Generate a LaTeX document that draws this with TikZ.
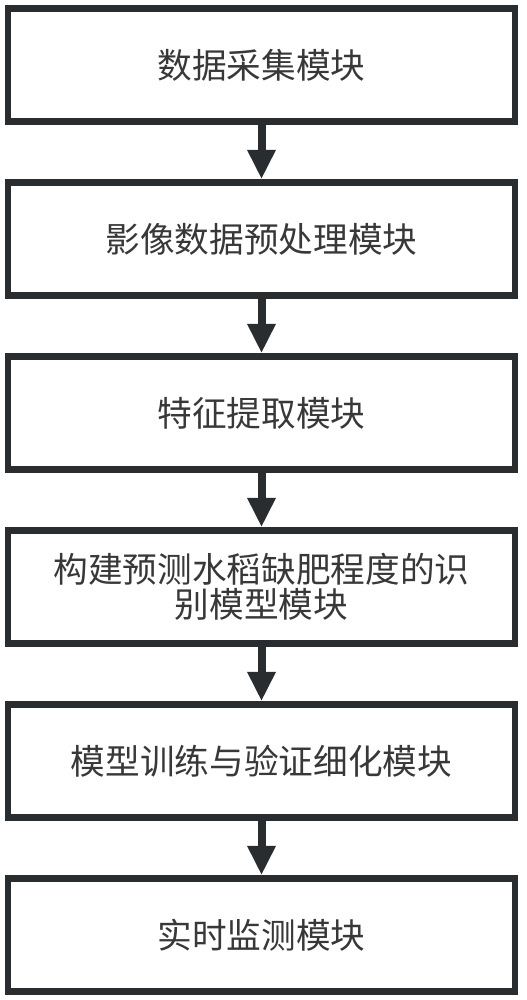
\documentclass[tikz,border=0pt]{standalone}
\usepackage{fontspec}
\newfontfamily\cjk{Noto Sans CJK SC}
\usetikzlibrary{positioning,arrows.meta}
\definecolor{boxline}{HTML}{2A2D30}
\definecolor{boxtext}{HTML}{383838}
\tikzset{>={Triangle[width=20pt,length=22pt]},
  modbox/.style={draw=boxline,line width=5pt,minimum width=380.25pt,minimum height=84.75pt,
    inner sep=0pt,align=center,text=boxtext,font=\cjk\fontsize{26}{26.25}\selectfont},
  flow/.style={->,draw=boxline,line width=6pt}}

\begin{document}
\begin{tikzpicture}
\useasboundingbox (0,0) rectangle (394.5pt,-750pt);

\node[modbox] (M1) at (196.125pt,-48.75pt) {数据采集模块};
\node[modbox,below=40.75pt of M1] (M2) {影像数据预处理模块};
\node[modbox,below=40.75pt of M2] (M3) {特征提取模块};
\node[modbox,below=40.75pt of M3] (M4) {构建预测水稻缺肥程度的识\\别模型模块};
\node[modbox,below=40.75pt of M4] (M5) {模型训练与验证细化模块};
\node[modbox,below=40.75pt of M5] (M6) {实时监测模块};

\foreach \a/\b in {M1/M2,M2/M3,M3/M4,M4/M5,M5/M6}
  \draw[flow] (\a.south) -- (\b.north);
\end{tikzpicture}
\end{document}
